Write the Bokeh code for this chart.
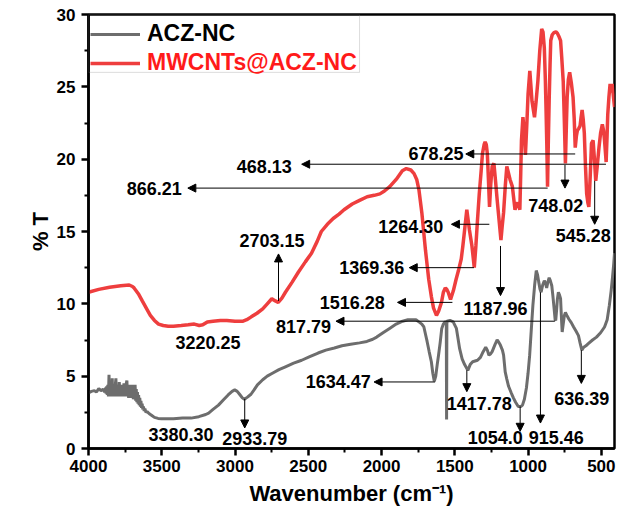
from bokeh.plotting import figure
from bokeh.models import (Range1d, FixedTicker, Arrow, NormalHead, Label, Legend,
                          LegendItem, BoxAnnotation)
from bokeh.embed import file_html
from bokeh.resources import INLINE

FONT = "Liberation Sans"

# ---------------- data ----------------
series_names = ["ACZ-NC", "MWCNTs@ACZ-NC"]

# ACZ-NC: noisy high-wavenumber part
acz_noise_x = [4000, 3980, 3960, 3945, 3930, 3915, 3900, 3890,
               3884, 3880, 3876, 3872, 3868, 3864, 3860, 3857, 3854, 3850,
               3846, 3842, 3838, 3835, 3832, 3828, 3824, 3820, 3816, 3813,
               3810, 3806, 3802, 3798, 3794, 3790, 3786, 3782, 3778, 3774,
               3770, 3766, 3762, 3758, 3754, 3750, 3746, 3742, 3738, 3734,
               3730, 3726, 3722, 3718, 3714, 3710, 3706, 3702, 3698, 3694,
               3690, 3686, 3682, 3678, 3674, 3670, 3666, 3662, 3658, 3654,
               3650, 3646, 3642, 3638, 3634, 3630, 3625, 3620, 3615, 3608, 3600]
acz_noise_y = [3.85, 3.95, 4.0, 3.9, 4.15, 4.0, 4.1, 3.9,
               4.2, 3.8, 4.3, 3.7, 4.4, 3.6, 5.1, 3.7, 4.4, 3.6,
               4.5, 3.7, 4.85, 3.6, 4.4, 3.7, 4.3, 3.6, 4.5, 4.85,
               3.6, 4.4, 3.7, 4.3, 3.6, 4.6, 3.7, 4.4, 3.6, 4.3,
               3.7, 4.4, 3.6, 4.5, 3.7, 4.3, 3.6, 4.5, 4.7, 3.6,
               4.4, 3.5, 4.3, 3.6, 4.4, 3.5, 4.2, 3.5, 4.4, 3.4,
               4.3, 3.4, 4.4, 3.3, 4.1, 3.2, 3.9, 3.1, 3.7, 3.0,
               3.5, 2.9, 3.3, 2.8, 3.1, 2.7, 2.9, 2.6, 2.75, 2.5, 2.55]

# ACZ-NC: rest of the spectrum
acz_rest_x = [3585, 3570, 3550, 3525, 3500, 3469, 3420,
              3358, 3300, 3247, 3200, 3180, 3150, 3113, 3080, 3047, 3020, 3002, 2985, 2969, 2950,
              2936, 2915, 2891, 2870, 2847, 2811, 2780, 2745, 2700, 2656, 2600, 2545, 2490, 2433,
              2380, 2322, 2270, 2211, 2150, 2100, 2060, 2033, 1990, 1945, 1900, 1856, 1820, 1789,
              1765, 1745, 1725, 1711, 1700, 1689, 1675, 1660, 1650, 1640, 1630, 1620, 1611, 1600,
              1589, 1578, 1567, 1558, 1556, 1554, 1533, 1511, 1489, 1478, 1467, 1450, 1433, 1411,
              1395, 1378, 1345, 1325, 1311, 1289, 1278, 1267, 1255, 1245, 1225, 1211, 1200, 1189,
              1175, 1167, 1156, 1145, 1133, 1115, 1100, 1085, 1067, 1050, 1038, 1025, 1011, 1000,
              989, 978, 967, 955, 944, 935, 927, 918, 911, 900, 889, 880, 873, 865, 856, 848, 838,
              830, 822, 815, 811, 805, 800, 793, 785, 778, 772, 767, 760, 752, 745, 735, 722, 705,
              689, 672, 656, 645, 633, 620, 605, 589, 560, 533, 505, 478, 460, 445, 433, 423, 415, 410]
acz_rest_y = [2.4, 2.3, 2.15, 2.08, 2.05, 2.05, 2.05,
              2.1, 2.1, 2.2, 2.35, 2.45, 2.7, 3.0, 3.35, 3.7, 3.95, 4.05, 3.95, 3.75, 3.5,
              3.4, 3.55, 3.75, 4.05, 4.4, 4.75, 5.0, 5.2, 5.45, 5.65, 5.9, 6.1, 6.35, 6.6,
              6.8, 6.95, 7.1, 7.2, 7.3, 7.4, 7.55, 7.7, 8.0, 8.3, 8.6, 8.8, 8.9, 8.9,
              8.9, 8.75, 8.6, 8.4, 7.9, 7.4, 6.7, 6.0, 5.2, 4.65, 5.0, 5.8, 6.45, 7.3,
              8.3, 8.6, 8.75, 8.75, 2.0, 8.8, 8.85, 8.75, 8.3, 7.6, 6.9, 6.2, 5.8, 5.4,
              5.8, 6.0, 6.1, 6.3, 6.6, 7.0, 6.8, 6.45, 6.55, 6.7, 7.2, 7.5, 7.35, 7.15,
              6.8, 6.45, 5.3, 4.8, 4.3, 3.85, 3.5, 3.2, 2.9, 2.9, 3.0, 3.4, 4.2, 5.2,
              6.45, 8.2, 9.9, 11.3, 12.3, 12.0, 11.5, 11.0, 10.8, 11.3, 11.6, 11.4, 11.1, 11.5, 11.8, 11.6, 11.25,
              10.5, 9.65, 8.9, 8.85, 9.6, 10.3, 10.8, 10.6, 10.35, 9.0, 8.05, 8.6, 9.2, 9.4, 9.2, 8.95, 8.7,
              8.4, 8.1, 7.8, 7.3, 6.8, 7.0, 7.1, 7.25, 7.5, 7.7, 8.0, 8.4, 8.9, 9.9, 10.9, 11.9, 12.8, 13.5]

acz_x = acz_noise_x + acz_rest_x
acz_y = acz_noise_y + acz_rest_y

mw_x = [4000, 3930, 3856, 3780, 3722, 3700, 3689, 3660, 3633, 3600, 3578, 3550, 3522, 3490,
        3456, 3420, 3367, 3320, 3278, 3244, 3220, 3189, 3150, 3100, 3056, 3000, 2945, 2920,
        2889, 2850, 2811, 2780, 2749, 2725, 2705, 2680, 2656, 2610, 2567, 2520, 2478, 2440,
        2411, 2370, 2330, 2290, 2256, 2200, 2150, 2098, 2050, 2011, 1980, 1944, 1900, 1858,
        1831, 1800, 1778, 1760, 1745, 1725, 1700, 1678, 1660, 1645, 1625, 1610, 1591, 1578,
        1565, 1555, 1545, 1529, 1510, 1491, 1475, 1456, 1445, 1433, 1418, 1400, 1383, 1367,
        1356, 1345, 1333, 1320, 1311, 1300, 1293, 1285, 1278, 1270, 1263, 1255, 1245, 1233,
        1222, 1211, 1198, 1185, 1177, 1167, 1155, 1145, 1135, 1123, 1107, 1098, 1089, 1080,
        1071, 1063, 1056, 1050, 1045, 1035, 1027, 1018, 1008, 1000, 988, 980, 973, 956, 945,
        933, 920, 907, 898, 889, 882, 878, 872, 867, 862, 856, 850, 845, 835, 823, 810, 800,
        790, 778, 770, 760, 752, 745, 738, 733, 725, 716, 705, 693, 685, 678, 670, 663, 655,
        645, 638, 631, 624, 616, 608, 600, 592, 585, 575, 567, 556, 547, 538, 527, 516, 505,
        493, 485, 478, 467, 461, 456, 448, 440, 432, 426, 418, 410]
mw_y = [10.8, 11.0, 11.15, 11.25, 11.3, 11.2, 11.1, 10.7, 10.2, 9.6, 9.2, 8.85, 8.6, 8.5,
        8.45, 8.45, 8.5, 8.55, 8.6, 8.5, 8.55, 8.75, 8.8, 8.85, 8.85, 8.8, 8.8, 8.9,
        9.1, 9.35, 9.65, 10.0, 10.35, 10.2, 10.1, 10.4, 10.8, 11.5, 12.2, 12.9, 13.5, 14.3,
        15.0, 15.5, 15.9, 16.2, 16.5, 16.9, 17.15, 17.4, 17.5, 17.6, 17.8, 18.1, 18.6, 19.2,
        19.35, 19.25, 19.0, 18.6, 17.9, 16.3, 13.7, 11.7, 10.5, 9.7, 9.2, 9.5, 10.1, 10.8,
        11.1, 11.0, 10.8, 10.3, 10.9, 11.7, 12.3, 13.1, 14.0, 15.1, 16.5, 15.1, 14.0, 12.5,
        14.0, 15.8, 17.6, 19.2, 20.4, 21.0, 21.2, 21.0, 20.4, 18.5, 16.7, 18.2, 19.5, 19.7,
        18.5, 17.2, 15.8, 14.4, 15.3, 16.3, 18.2, 19.5, 19.1, 18.6, 18.1, 17.3, 16.5, 16.8,
        17.0, 16.8, 16.5, 19.0, 21.3, 22.9, 22.0, 20.3, 22.5, 24.5, 26.1, 25.0, 24.0, 22.9, 24.0,
        25.4, 27.5, 29.0, 28.8, 27.7, 25.5, 23.8, 21.0, 18.1, 21.0, 24.0, 26.5, 28.2, 28.6, 28.75, 28.8, 28.7,
        28.5, 28.2, 27.0, 25.4, 22.5, 19.7, 22.5, 24.3, 25.5, 26.0, 25.3, 24.3, 22.8, 20.8, 21.6, 22.0, 22.1,
        22.3, 22.9, 23.4, 22.8, 21.8, 19.5, 17.6, 17.0, 16.7, 19.0, 21.1, 21.3, 20.0, 18.5, 19.6, 20.8, 21.8,
        22.4, 22.0, 21.3, 19.8, 21.5, 23.1, 24.3, 25.2, 24.6, 25.2, 24.4, 23.6]

x_ticks = [4000, 3500, 3000, 2500, 2000, 1500, 1000, 500]
y_ticks = [0, 5, 10, 15, 20, 25, 30]

# peak labels (text) -- placement handled in the layout table below
peak_labels = ["678.25", "468.13", "866.21", "748.02", "545.28", "1264.30", "2703.15",
               "3220.25", "1369.36", "1516.28", "1187.96", "817.79", "1634.47", "1417.78",
               "1054.0", "915.46", "636.39", "3380.30", "2933.79"]

# ---------------- layout of annotations ----------------
# (label, text_x, text_y, align, arrow (x0, y0, x1, y1) or None)
ann_layout = [
    ("678.25", 1440, 20.4, "right", (678.25, 20.36, 1425, 20.36)),
    ("468.13", 2613, 19.5, "right", (468.13, 19.65, 2545, 19.65)),
    ("866.21", 3364, 18.0, "right", (866.21, 18.0, 3322, 18.0)),
    ("748.02", 811, 16.8, "center", (748.02, 19.6, 748.02, 18.0)),
    ("545.28", 623, 14.7, "center", (545.28, 18.5, 545.28, 15.5)),
    ("1264.30", 1578, 15.35, "right", (1264.30, 15.5, 1523, 15.5)),
    ("2703.15", 2748, 14.35, "center", (2703.15, 10.2, 2703.15, 13.45)),
    ("3220.25", 3185, 7.3, "center", None),
    ("1369.36", 1845, 12.5, "right", (1369.36, 12.5, 1811, 12.5)),
    ("1516.28", 1978, 10.1, "right", (1516.28, 10.1, 1891, 10.1)),
    ("1187.96", 1222, 9.65, "center", (1187.96, 14.0, 1187.96, 10.57)),
    ("817.79", 2345, 8.4, "right", (817.79, 8.8, 2311, 8.8)),
    ("1634.47", 2073, 4.6, "right", (1634.47, 4.6, 2051, 4.6)),
    ("1417.78", 1333, 3.13, "center", (1417.78, 5.4, 1417.78, 3.93)),
    ("1054.0", 1224, 0.78, "center", (1054.0, 2.9, 1054.0, 1.19)),
    ("915.46", 808, 0.78, "center", (915.46, 10.8, 915.46, 1.76)),
    ("636.39", 633, 3.48, "center", (636.39, 6.8, 636.39, 4.5)),
    ("3380.30", 3369, 0.96, "center", None),
    ("2933.79", 2865, 0.69, "center", (2933.79, 3.43, 2933.79, 1.42)),
]

GREY = "#6d6d6d"
RED = "#ee3e3e"

p = figure(width=616, height=511, output_backend="svg", toolbar_location=None,
           x_range=Range1d(4000, 410), y_range=Range1d(0, 30),
           min_border_left=88, min_border_right=2, min_border_top=14, min_border_bottom=63,
           background_fill_color="white", border_fill_color="white")
p.grid.visible = False
p.outline_line_color = "black"
p.outline_line_width = 2.5
p.outline_line_alpha = 1.0

xa = p.xaxis[0]
ya = p.yaxis[0]
xa.ticker = FixedTicker(ticks=x_ticks, minor_ticks=[t - 250 for t in x_ticks])
ya.ticker = FixedTicker(ticks=y_ticks, minor_ticks=[t + 2.5 for t in y_ticks[:-1]])
for ax in (xa, ya):
    ax.axis_line_width = 2.5
    ax.axis_line_color = "black"
    ax.major_tick_line_width = 2.5
    ax.minor_tick_line_width = 2
    ax.major_tick_in = 0
    ax.major_tick_out = 7
    ax.minor_tick_in = 0
    ax.minor_tick_out = 4
    ax.major_label_text_font = FONT
    ax.major_label_text_font_size = "17px"
    ax.major_label_text_font_style = "bold"
    ax.major_label_text_color = "black"
    ax.axis_label_text_font = FONT
    ax.axis_label_text_font_size = "22px"
    ax.axis_label_text_font_style = "bold"
    ax.axis_label_text_color = "black"
xa.axis_label = "Wavenumber (cm\u207b\u00b9)"
ya.axis_label = "% T"
xa.major_label_standoff = 4
xa.axis_label_standoff = 6
ya.major_label_standoff = 6
ya.axis_label_standoff = 1

r_grey = p.line(acz_x, acz_y, line_color=GREY, line_width=3)
r_red = p.line(mw_x, mw_y, line_color=RED, line_width=3.5)

# legend frame
p.add_layout(BoxAnnotation(left=4000, right=2150, bottom=26.0, top=30,
                           fill_alpha=0, line_color="#8c8c8c", line_width=1))

def make_legend(name, rend, color, vy):
    lg = Legend(items=[LegendItem(label=name, renderers=[rend])], location=(2, vy),
                glyph_width=50, glyph_height=24, label_height=24, label_standoff=7,
                label_text_font=FONT, label_text_font_size="23px",
                label_text_font_style="bold", label_text_color=color,
                padding=0, spacing=0, margin=0, border_line_alpha=0,
                background_fill_alpha=0)
    p.add_layout(lg)

make_legend(series_names[0], r_grey, "black", 401)
make_legend(series_names[1], r_red, "#ff1a1a", 372)

for lab, tx, ty, align, arr in ann_layout:
    assert lab in peak_labels
    if arr is not None:
        x0, y0, x1, y1 = arr
        p.add_layout(Arrow(end=NormalHead(size=8, fill_color="black", line_color="black",
                                          line_width=1),
                           x_start=x0, y_start=y0, x_end=x1, y_end=y1,
                           line_color="black", line_width=1))
    p.add_layout(Label(x=tx, y=ty, text=lab, text_font=FONT, text_font_size="18px",
                       text_font_style="bold", text_color="black", text_align=align,
                       text_baseline="middle"))

open("out.html", "w").write(file_html(p, INLINE))
